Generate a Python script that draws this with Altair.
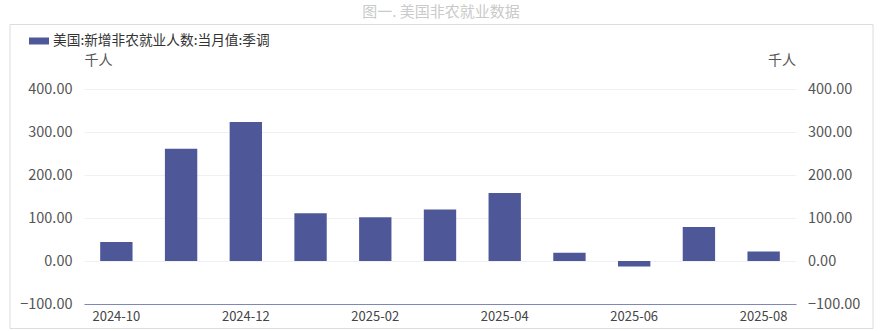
import altair as alt
import pandas as pd

months = ["2024-10", "2024-11", "2024-12", "2025-01", "2025-02", "2025-03",
          "2025-04", "2025-05", "2025-06", "2025-07", "2025-08"]
values = [44, 261, 323, 111, 102, 120, 158, 19, -13, 79, 22]
series_name = "美国:新增非农就业人数:当月值:季调"
label_months = ["2024-10", "2024-12", "2025-02", "2025-04", "2025-06", "2025-08"]
y_ticks = [-100, 0, 100, 200, 300, 400]
title_text = "图一. 美国非农就业数据"
unit_text = "千人"

df = pd.DataFrame({"month": months, "value": values, "series": series_name})
ticks_df = pd.DataFrame({"value": y_ticks})
one = pd.DataFrame({"t": [title_text], "u": [unit_text]})

FONT = "Noto Sans CJK SC"
BAR = "#4e5899"
W, H = 712, 215

label_expr = "indexof(" + str(label_months) + ", datum.value) >= 0 ? datum.value : ''"

x = alt.X("month:O", sort=months, scale=alt.Scale(paddingInner=0.5, paddingOuter=0.25),
          axis=alt.Axis(title=None, labelAngle=0, labelExpr=label_expr, ticks=False,
                        grid=False, domainColor="#7d88b8", domainWidth=1.2,
                        labelColor="#444", labelFontSize=13, labelPadding=6,
                        labelFont=FONT))

yscale = alt.Scale(domain=[-100, 400], nice=False, zero=False)
yaxis = alt.Axis(values=y_ticks, format=".2f", title=unit_text, titleAngle=0,
                 titleAlign="left", titleX=0, titleY=-22, titleFontWeight="normal",
                 titleFontSize=14, titleColor="#555", titleFont=FONT,
                 ticks=False, domain=False, labelColor="#555", labelFontSize=14.5,
                 labelPadding=12, labelFont=FONT, gridColor="#eff0f6")

frame = alt.Chart(one).mark_rect(fill="transparent", stroke="#dcdcdc", strokeWidth=1).encode(
    x=alt.value(-74), x2=alt.value(789), y=alt.value(-64.5), y2=alt.value(239.5)
)

title = alt.Chart(one).mark_text(fontSize=15, color="#cacaca", font=FONT,
                                 baseline="middle", align="center").encode(
    x=alt.value(W / 2 + 1), y=alt.value(-77), text="t:N"
)

right_unit = alt.Chart(one).mark_text(fontSize=14, color="#555", font=FONT,
                                      baseline="middle", align="right").encode(
    x=alt.value(W), y=alt.value(-28), text="u:N"
)

bars = alt.Chart(df).mark_bar(color=BAR).encode(
    x=x,
    y=alt.Y("value:Q", scale=yscale, axis=yaxis),
    color=alt.Color("series:N", scale=alt.Scale(range=[BAR]),
                    legend=alt.Legend(title=None, orient="none", legendX=-55, legendY=-58,
                                      symbolType="M-1,-0.35L1,-0.35L1,0.35L-1,0.35Z",
                                      symbolSize=400, symbolStrokeWidth=0,
                                      labelFontSize=13.7, labelColor="#333", labelFont=FONT,
                                      labelOffset=4, labelLimit=0)),
)

right_labels = alt.Chart(ticks_df).mark_text(fontSize=14.5, color="#555", font=FONT,
                                             baseline="middle", align="left", dy=1).encode(
    x=alt.value(W + 12),
    y=alt.Y("value:Q", scale=yscale, axis=yaxis),
    text=alt.Text("value:Q", format=".2f"),
)

chart = alt.layer(frame, title, right_unit, bars, right_labels).properties(
    width=W, height=H,
    background="white",
    padding={"left": 84, "top": 89, "right": 86, "bottom": 27},
    autosize=alt.AutoSizeParams(type="none"),
).configure_view(strokeWidth=0, stroke="transparent").configure_axisX(grid=False)

chart.save("out.html", embed_options={"renderer": "svg", "actions": False})
